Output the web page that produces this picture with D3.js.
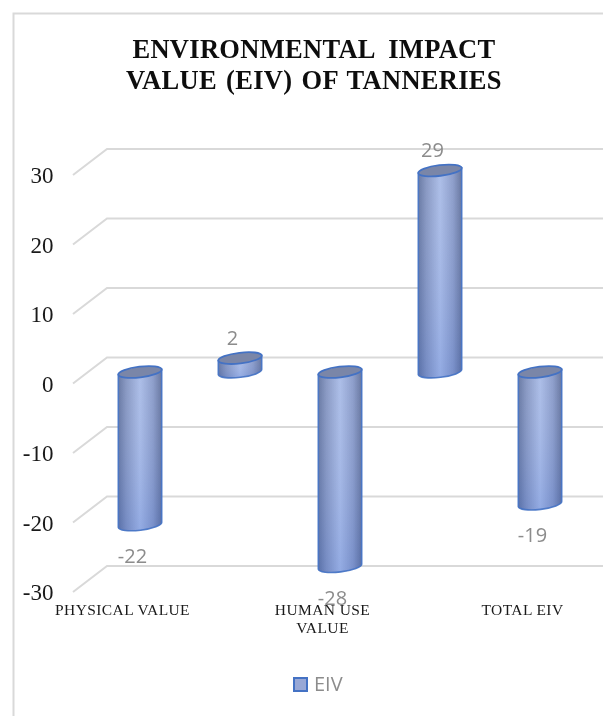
<!DOCTYPE html>
<html><head><meta charset="utf-8">
<script src="https://cdn.jsdelivr.net/npm/d3@7"></script>
<style>html,body{margin:0;padding:0;background:#fff}svg{display:block;filter:blur(0.35px)}</style></head>
<body><div id="chart"></div>
<script>
const titleLines = ["ENVIRONMENTAL  IMPACT", "VALUE (EIV) OF TANNERIES"];
const categories = ["PHYSICAL VALUE", "BIOLOGICAL VALUE", "HUMAN USE VALUE", "ECONOMIC VALUE", "TOTAL EIV"];
const shownLabels = [["PHYSICAL VALUE"], [], ["HUMAN USE", "VALUE"], [], ["TOTAL EIV"]];
const values = [-22, 2, -28, 29, -19];
const ticks = [30, 20, 10, 0, -10, -20, -30];
const seriesName = "EIV";

const W = 603, H = 716;
const svg = d3.select("#chart").append("svg").attr("width", W).attr("height", H);
const serif = "'Liberation Serif',serif", sans = "'Open Sans',sans-serif";

const defs = svg.append("defs");
const hg = defs.append("linearGradient").attr("id", "cyl");
[[0,"#5d6f9c"],[0.18,"#7f90bd"],[0.5,"#a6b9e6"],[0.8,"#8496c6"],[1,"#5c6c98"]]
  .forEach(d => hg.append("stop").attr("offset", d[0]).attr("stop-color", d[1]));
const vg = defs.append("linearGradient").attr("id", "lift").attr("x1",0).attr("x2",0).attr("y1",0).attr("y2",1);
vg.append("stop").attr("offset",0).attr("stop-color","#fff").attr("stop-opacity",0.08);
vg.append("stop").attr("offset",1).attr("stop-color","#4f78d8").attr("stop-opacity",0.22);

// frame
svg.append("path").attr("d", "M13.5,716V13.5H603").attr("fill","none").attr("stroke","#d9d9d9").attr("stroke-width",2);

// title
svg.append("g").selectAll("text").data(titleLines).join("text")
  .attr("x", 314).attr("y", (d,i) => 58 + i*31)
  .attr("text-anchor","middle").attr("font-family",serif).attr("font-weight",700)
  .attr("font-size",26.5).attr("fill","#0d0d0d")
  .style("white-space","pre").style("letter-spacing","0.3px")
  .style("word-spacing", (d,i) => i ? "2.2px" : "0px").text(d => d);

// value scales: back wall, front edge and bar plane
const yBack = d3.scaleLinear().domain([30,-30]).range([149,566]);
const yFront = d3.scaleLinear().domain([30,-30]).range([175,592]);
const yBar = d3.scaleLinear().domain([30,-30]).range([163.5,580.5]);
const x = d3.scaleBand().domain(categories).range([90,590]);
const xBack = 107, xFront = 73;
const cx = i => x(categories[i]) + x.bandwidth()/2;

// gridlines
const grid = svg.append("g").attr("fill","none").attr("stroke","#d9d9d9").attr("stroke-width",2);
grid.selectAll("path").data(ticks).join("path")
  .attr("d", d => `M${xFront},${yFront(d)}L${xBack},${yBack(d)}H${W}`);

// axis tick labels
svg.append("g").selectAll("text").data(ticks).join("text")
  .attr("x", 53.5).attr("y", d => yFront(d) + 8)
  .attr("text-anchor","end").attr("font-family",serif).attr("font-size",23)
  .attr("fill","#1a1a1a").text(d => d);

// cylinders
const rx = 21.7, ry = 5.3, tilt = 2.6;
const ang = -Math.atan2(tilt, rx) * 180 / Math.PI;
const bars = svg.append("g").selectAll("g").data(values).join("g")
  .attr("transform", (d,i) => `translate(${cx(i)},0)`);
const bodyPath = d => {
  const a = yBar(Math.max(d,0)), b = yBar(Math.min(d,0));
  return `M${-rx},${a+tilt}L${-rx},${b+tilt}A${rx},${ry} ${ang} 0 0 ${rx},${b-tilt}L${rx},${a-tilt}Z`;
};
const capPath = d => {
  const a = yBar(Math.max(d,0));
  return `M${-rx},${a+tilt}A${rx},${ry} ${ang} 0 1 ${rx},${a-tilt}A${rx},${ry} ${ang} 0 1 ${-rx},${a+tilt}Z`;
};
bars.append("path").attr("d", bodyPath).attr("fill","url(#cyl)");
bars.append("path").attr("d", bodyPath).attr("fill","url(#lift)")
  .attr("stroke","#4472c4").attr("stroke-width",1.6).attr("stroke-opacity",0.9);
bars.append("path").attr("d", capPath)
  .attr("fill","#7a86a8").attr("stroke","#4472c4").attr("stroke-width",1.8);

// data labels: set off from each bar's end
svg.append("g").selectAll("text").data(values).join("text")
  .attr("x", (d,i) => cx(i) - 7.5)
  .attr("y", d => yBar(d) + (d < 0 ? 38 : -13.5))
  .attr("text-anchor","middle").attr("font-family",sans).attr("font-size",20)
  .attr("fill","#8c8c8c").text(d => d);

// category labels
const cat = svg.append("g");
shownLabels.forEach((lines,i) => {
  lines.forEach((t,j) => {
    cat.append("text")
      .attr("x", cx(i) - 17.5)
      .attr("y", 615 + j*17.5)
      .attr("text-anchor","middle").attr("font-family",serif).attr("font-size",15.5)
      .style("letter-spacing","0.4px")
      .attr("fill","#1a1a1a").text(t);
  });
});

// legend
svg.append("rect").attr("x",294).attr("y",678).attr("width",13).attr("height",13)
  .attr("fill","#98a8d6").attr("stroke","#4472c4").attr("stroke-width",2);
svg.append("text").attr("x",314).attr("y",691).attr("font-family",sans).attr("font-size",20)
  .attr("fill","#8c8c8c").text(seriesName);
</script></body></html>
